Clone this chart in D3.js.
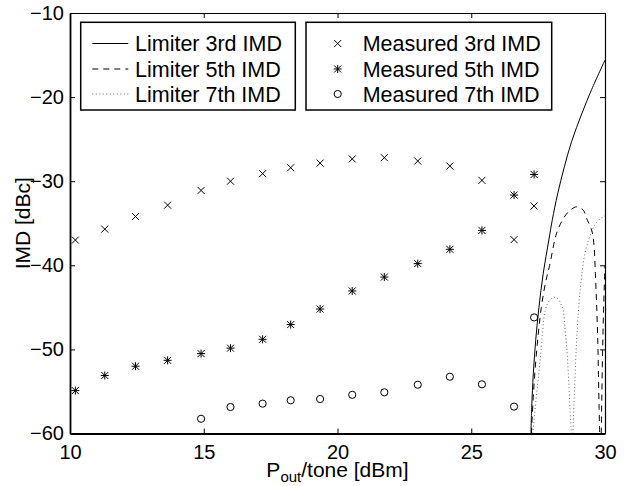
<!DOCTYPE html>
<html><head><meta charset="utf-8">
<script src="https://cdn.jsdelivr.net/npm/d3@7"></script>
<style>
body{margin:0;background:#fff}
svg{display:block}
text{font-family:"Liberation Sans",Arial,Helvetica,sans-serif;fill:#000}
</style>
</head><body>
<svg id="c" width="631" height="486"></svg>
<script>
// ---- data ----
const pout  = [10.2, 11.3, 12.45, 13.65, 14.9, 16.0, 17.2, 18.25, 19.35, 20.55, 21.75, 23.0, 24.2, 25.4, 26.6, 27.35];
const meas3 = [-37.0, -35.7, -34.2, -32.85, -31.1, -30.0, -29.1, -28.4, -27.85, -27.35, -27.2, -27.6, -28.2, -29.9, -36.95, -32.95];
const meas5 = [-54.9, -53.1, -52.0, -51.3, -50.5, -49.85, -48.8, -47.05, -45.2, -43.05, -41.4, -39.8, -38.1, -35.85, -31.65, -29.2];
const meas7 = [null, null, null, null, -58.25, -56.85, -56.45, -56.05, -55.9, -55.4, -55.1, -54.2, -53.25, -54.15, -56.8, -46.2];

const lim3X = [27.23, 27.26, 27.32, 27.41, 27.53, 27.69, 27.9, 28.03, 28.23, 28.48, 28.75, 29.13, 29.5, 30.0];
const lim3Y = [-60, -56.9, -52.9, -48.9, -45.0, -41.0, -37.0, -34.6, -31.5, -28.3, -25.3, -22.0, -19.1, -15.6];

const lim5aX = [27.25, 27.33, 27.45, 27.62, 27.78, 27.93, 28.12, 28.19, 28.38, 28.63, 28.94, 29.19, 29.31, 29.5, 29.58, 29.64, 29.69, 29.73, 29.755, 29.78, 29.8];
const lim5aY = [-60, -55, -50, -45, -42, -40, -37, -36.2, -34.8, -33.65, -33.05, -33.45, -34.4, -35.8, -37.3, -41, -45, -49, -53, -57, -60];
const lim5bX = [29.86, 29.9, 29.94, 30.0];
const lim5bY = [-60, -52, -46, -40];

const lim7aX = [27.3, 27.42, 27.52, 27.61, 27.76, 27.88, 28.0, 28.13, 28.25, 28.35, 28.44, 28.5, 28.57, 28.63, 28.69, 28.74];
const lim7aY = [-60, -56, -53, -50.1, -45.4, -44.4, -43.95, -43.8, -44.0, -44.6, -45.4, -47.4, -49.7, -52.9, -56.9, -60];
const lim7bX = [28.8, 28.86, 28.94, 29.07, 29.25, 29.44, 29.62, 29.8, 29.95, 30.0];
const lim7bY = [-60, -55, -48.9, -43, -38.6, -36.5, -35.2, -34.5, -34.2, -34.1];

const xTicks = [10, 15, 20, 25, 30];
const yTicks = [-60, -50, -40, -30, -20, -10];
const legendLineLabels = ["Limiter 3rd IMD", "Limiter 5th IMD", "Limiter 7th IMD"];
const legendMarkLabels = ["Measured 3rd IMD", "Measured 5th IMD", "Measured 7th IMD"];

// ---- drawing ----
const svg = d3.select("#c");
const W = 631, H = 486;
const P = {l: 70, r: 605, t: 13, b: 433.5};
const x = d3.scaleLinear().domain([10, 30]).range([P.l, P.r]);
const y = d3.scaleLinear().domain([-60, -10]).range([P.b, P.t]);

svg.append("rect").attr("width", W).attr("height", H).attr("fill", "#fff");
svg.append("defs").append("clipPath").attr("id", "clip")
  .append("rect").attr("x", P.l).attr("y", P.t).attr("width", P.r - P.l).attr("height", P.b - P.t);

const plot = svg.append("g").attr("clip-path", "url(#clip)");
const line = d3.line().x(d => x(d[0])).y(d => y(d[1])).curve(d3.curveCatmullRom.alpha(0.5));

const styles = {
  solid:  {stroke: "#000", width: 1, dash: null},
  dashed: {stroke: "#000", width: 1, dash: "6,5"},
  dotted: {stroke: "#666", width: 1, dash: "1,2.5"}
};
function drawCurve(xs, ys, st) {
  plot.append("path").datum(d3.zip(xs, ys)).attr("d", line)
    .attr("fill", "none").attr("stroke", st.stroke).attr("stroke-width", st.width)
    .attr("stroke-dasharray", st.dash);
}
drawCurve(lim3X, lim3Y, styles.solid);
drawCurve(lim5aX, lim5aY, styles.dashed);
drawCurve(lim5bX, lim5bY, styles.dashed);
drawCurve(lim7aX, lim7aY, styles.dotted);
drawCurve(lim7bX, lim7bY, styles.dotted);

const s = 3.5;
const markerPath = {
  cross: `M${-s},${-s}L${s},${s}M${-s},${s}L${s},${-s}`,
  star: `M${-s},${-s}L${s},${s}M${-s},${s}L${s},${-s}M${-s-0.5},0L${s+0.5},0M0,${-s-0.5}L0,${s+0.5}`,
};
function drawMarker(g, type, cx, cy) {
  if (type === "circle") {
    g.append("circle").attr("cx", cx).attr("cy", cy).attr("r", 3.6)
      .attr("fill", "none").attr("stroke", "#000").attr("stroke-width", 1);
  } else {
    g.append("path").attr("transform", `translate(${cx},${cy})`).attr("d", markerPath[type])
      .attr("fill", "none").attr("stroke", "#000").attr("stroke-width", 1);
  }
}
const mg = svg.append("g");
[[meas3, "cross"], [meas5, "star"], [meas7, "circle"]].forEach(([vals, t]) => {
  vals.forEach((v, i) => { if (v != null) drawMarker(mg, t, x(pout[i]), y(v)); });
});

// ---- axes (box with inward ticks on all sides) ----
const fs = "20px";
const ax = svg.append("g");
const axB = ax.append("g").attr("transform", `translate(0,${P.b})`)
  .call(d3.axisBottom(x).tickValues(xTicks).tickSizeInner(-5).tickSizeOuter(0).tickPadding(11));
const axL = ax.append("g").attr("transform", `translate(${P.l},0)`)
  .call(d3.axisLeft(y).tickValues(yTicks).tickSizeInner(-5).tickSizeOuter(0).tickPadding(6));
const axT = ax.append("g").attr("transform", `translate(0,${P.t})`)
  .call(d3.axisTop(x).tickValues(xTicks).tickSizeInner(-5).tickSizeOuter(0).tickFormat(""));
const axR = ax.append("g").attr("transform", `translate(${P.r},0)`)
  .call(d3.axisRight(y).tickValues(yTicks).tickSizeInner(-5).tickSizeOuter(0).tickFormat(""));
[axB, axL, axT, axR].forEach(g => {
  g.selectAll("text").attr("font-size", fs).attr("font-family", "Liberation Sans, Arial, sans-serif").attr("fill", "#000");
  g.selectAll("line").attr("stroke", "#000").attr("stroke-width", 1);
  g.select(".domain").attr("stroke", "#000");
});
axB.select(".domain").attr("stroke-width", 1.8);
axL.select(".domain").attr("stroke-width", 1.8);
axT.select(".domain").attr("stroke-width", 1.2);
axR.select(".domain").attr("stroke-width", 1.2);

// axis labels
const xl = svg.append("text").attr("x", (P.l + P.r) / 2).attr("y", 477).attr("text-anchor", "middle").attr("font-size", "21px");
xl.append("tspan").text("P");
xl.append("tspan").attr("font-size", "15px").attr("dy", 5).text("out");
xl.append("tspan").attr("dy", -5).text("/tone [dBm]");
svg.append("text").attr("transform", `translate(30,${(P.t + P.b) / 2}) rotate(-90)`)
  .attr("text-anchor", "middle").attr("font-size", "21px").text("IMD [dBc]");

// ---- legends ----
const rowY = [43.5, 69, 94];
const lg1 = svg.append("g");
lg1.append("rect").attr("x", 80.7).attr("y", 22.3).attr("width", 214.6).attr("height", 87.7)
  .attr("fill", "#fff").attr("stroke", "#000").attr("stroke-width", 1.5);
const lineStyles = [styles.solid, styles.dashed, styles.dotted];
legendLineLabels.forEach((lab, i) => {
  const st = lineStyles[i];
  lg1.append("line").attr("x1", 92.3).attr("x2", 128.3).attr("y1", rowY[i]).attr("y2", rowY[i])
    .attr("stroke", st.stroke).attr("stroke-width", st.width).attr("stroke-dasharray", st.dash);
  lg1.append("text").attr("x", 135).attr("y", rowY[i] + 7.5).attr("font-size", "21.5px").text(lab);
});
const lg2 = svg.append("g");
lg2.append("rect").attr("x", 306).attr("y", 22.3).attr("width", 245.7).attr("height", 87.7)
  .attr("fill", "#fff").attr("stroke", "#000").attr("stroke-width", 1.5);
const markTypes = ["cross", "star", "circle"];
legendMarkLabels.forEach((lab, i) => {
  drawMarker(lg2, markTypes[i], 337.7, rowY[i]);
  lg2.append("text").attr("x", 362.7).attr("y", rowY[i] + 7.5).attr("font-size", "21.5px").text(lab);
});
</script>
</body></html>
